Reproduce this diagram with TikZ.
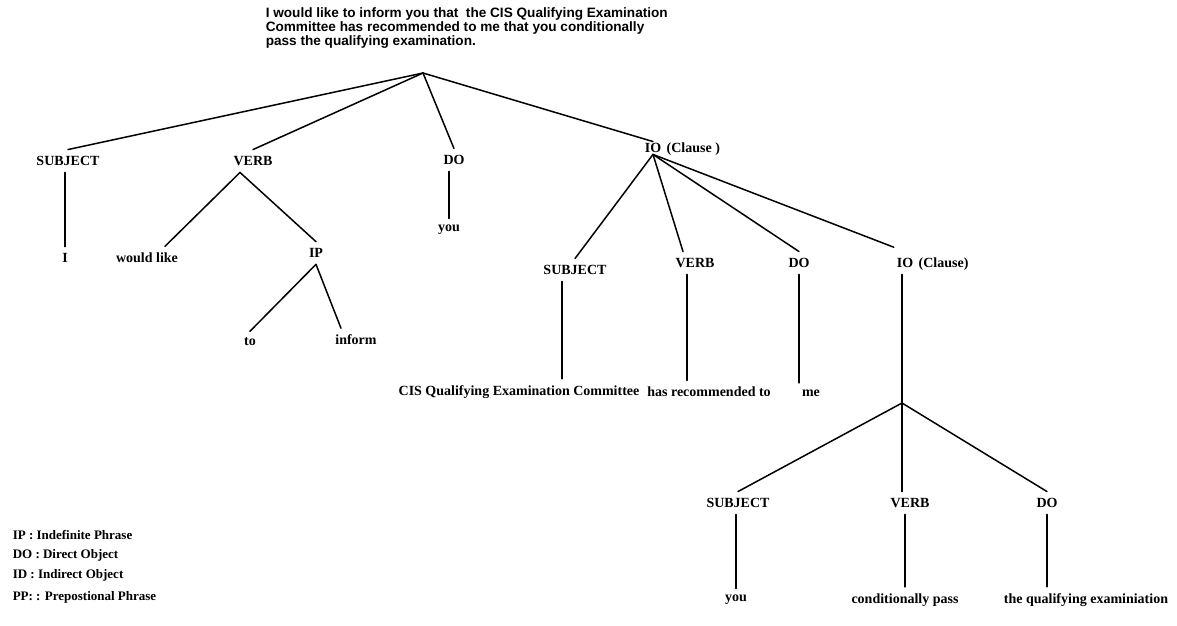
\documentclass[tikz,border=0pt]{standalone}
\usepackage{fontspec}
\setmainfont{Liberation Serif}
\newfontfamily\sentfont{Liberation Sans}
\usetikzlibrary{positioning}
\tikzset{
    parsetree/.style={x=1pt, y=-1pt, line width=1.5pt, line cap=round},
    cat/.style={font=\bfseries\fontsize{14}{16}\selectfont, inner xsep=2pt, inner ysep=6pt},
    leaf/.style={font=\bfseries\fontsize{14}{16}\selectfont, inner xsep=2pt, inner ysep=6pt},
    % the IO label is touched by its connectors
    headcat/.style={cat, inner ysep=1pt},
    legend/.style={font=\bfseries\fontsize{13}{15}\selectfont, anchor=west, inner sep=0pt},
    sentence/.style={font=\sentfont\bfseries\fontsize{13.6}{14}\selectfont, align=left, anchor=north west, inner sep=0pt},
}
\begin{document}
\begin{tikzpicture}[parsetree]
    \useasboundingbox (0,0) rectangle (1177,625);

    \node[sentence] (sent) at (265,7) {I would like to inform you that\ \ the CIS Qualifying Examination\\Committee has recommended to me that you conditionally\\pass the qualifying examination.};
    \coordinate (root) at (423,73);

    % first level
    \node[cat] (subj) at (68,161) {SUBJECT};
    \node[cat] (verb) at (253,161) {VERB};
    \node[cat] (do) at (454,160) {DO};
    \node[headcat] (io) at (653,148) {IO};
    \node[cat, anchor=base west] (ioclause) at (io.base east) {(Clause )};

    \draw (root) -- (subj.north);
    \draw (root) -- (verb.north);
    \draw (root) -- (do.north);
    \draw (root) -- (io.north);

    \node[leaf] (i) at (65,258) {I};
    \node[leaf] (wouldlike) at (147,258) {would like};
    \node[cat] (ip) at (316,253) {IP};
    \node[leaf] (you) at (449,230) {you};
    \node[leaf] (to) at (250,342) {to};
    \node[leaf] (inform) at (356,340) {inform};

    \draw (i.north |- subj.south) -- (i.north);
    \draw ([xshift=-13pt]verb.south) -- ([xshift=18pt]wouldlike.north);
    \draw ([xshift=-13pt]verb.south) -- (ip.north);
    \draw (you.north |- do.south) -- (you.north);
    \draw (ip.south) -- (to.north);
    \draw (ip.south) -- ([xshift=-15pt]inform.north);

    % clause below IO
    \node[cat] (subj2) at (575,270) {SUBJECT};
    \node[cat] (verb2) at (695,263) {VERB};
    \node[cat] (do2) at (799,263) {DO};
    \node[cat] (io2) at (905,263) {IO};
    \node[cat, anchor=base west] (io2clause) at (io2.base east) {(Clause)};

    \draw (io.south) -- (subj2.north);
    \draw (io.south) -- ([xshift=-12pt]verb2.north);
    \draw (io.south) -- (do2.north);
    \draw[shorten >=12pt] (io.south) -- (io2.north);

    \node[leaf] (cis) at (519,392) {CIS Qualifying Examination Committee};
    \node[leaf] (recommended) at (709,392) {has recommended to};
    \node[leaf] (me) at (811,393) {me};

    \draw ([xshift=-13pt]subj2.south) -- ([xshift=-13pt]subj2.south |- cis.north);
    \draw ([xshift=-8pt]verb2.south) -- ([xshift=-8pt]verb2.south |- recommended.north);
    \draw (do2.south) -- (do2.south |- me.north);

    % inner clause
    \coordinate (junc) at (902,403);
    \node[cat] (subj3) at (738,503) {SUBJECT};
    \node[cat] (verb3) at (910,503) {VERB};
    \node[cat] (do3) at (1047,503) {DO};

    \draw (junc |- io2.south) -- (junc);
    \draw (junc) -- (subj3.north);
    \draw (junc) -- (junc |- verb3.north);
    \draw (junc) -- (do3.north);

    \node[leaf] (you2) at (736,600) {you};
    \node[leaf] (pass) at (905,600) {conditionally pass};
    \node[leaf] (exam) at (1086,600) {the qualifying examiniation};

    \draw (you2.north |- subj3.south) -- (you2.north);
    \draw (pass.north |- verb3.south) -- (pass.north);
    \draw (do3.south) -- (do3.south |- exam.north);

    % abbreviations
    \node[legend] (legip) at (12,535) {IP : Indefinite Phrase};
    \node[legend] (legdo) at (12,555) {DO : Direct Object};
    \node[legend] (legio) at (12,575) {ID : Indirect Object};
    \node[legend] (legpp) at (12,597) {PP: : Prepostional Phrase};
\end{tikzpicture}
\end{document}
